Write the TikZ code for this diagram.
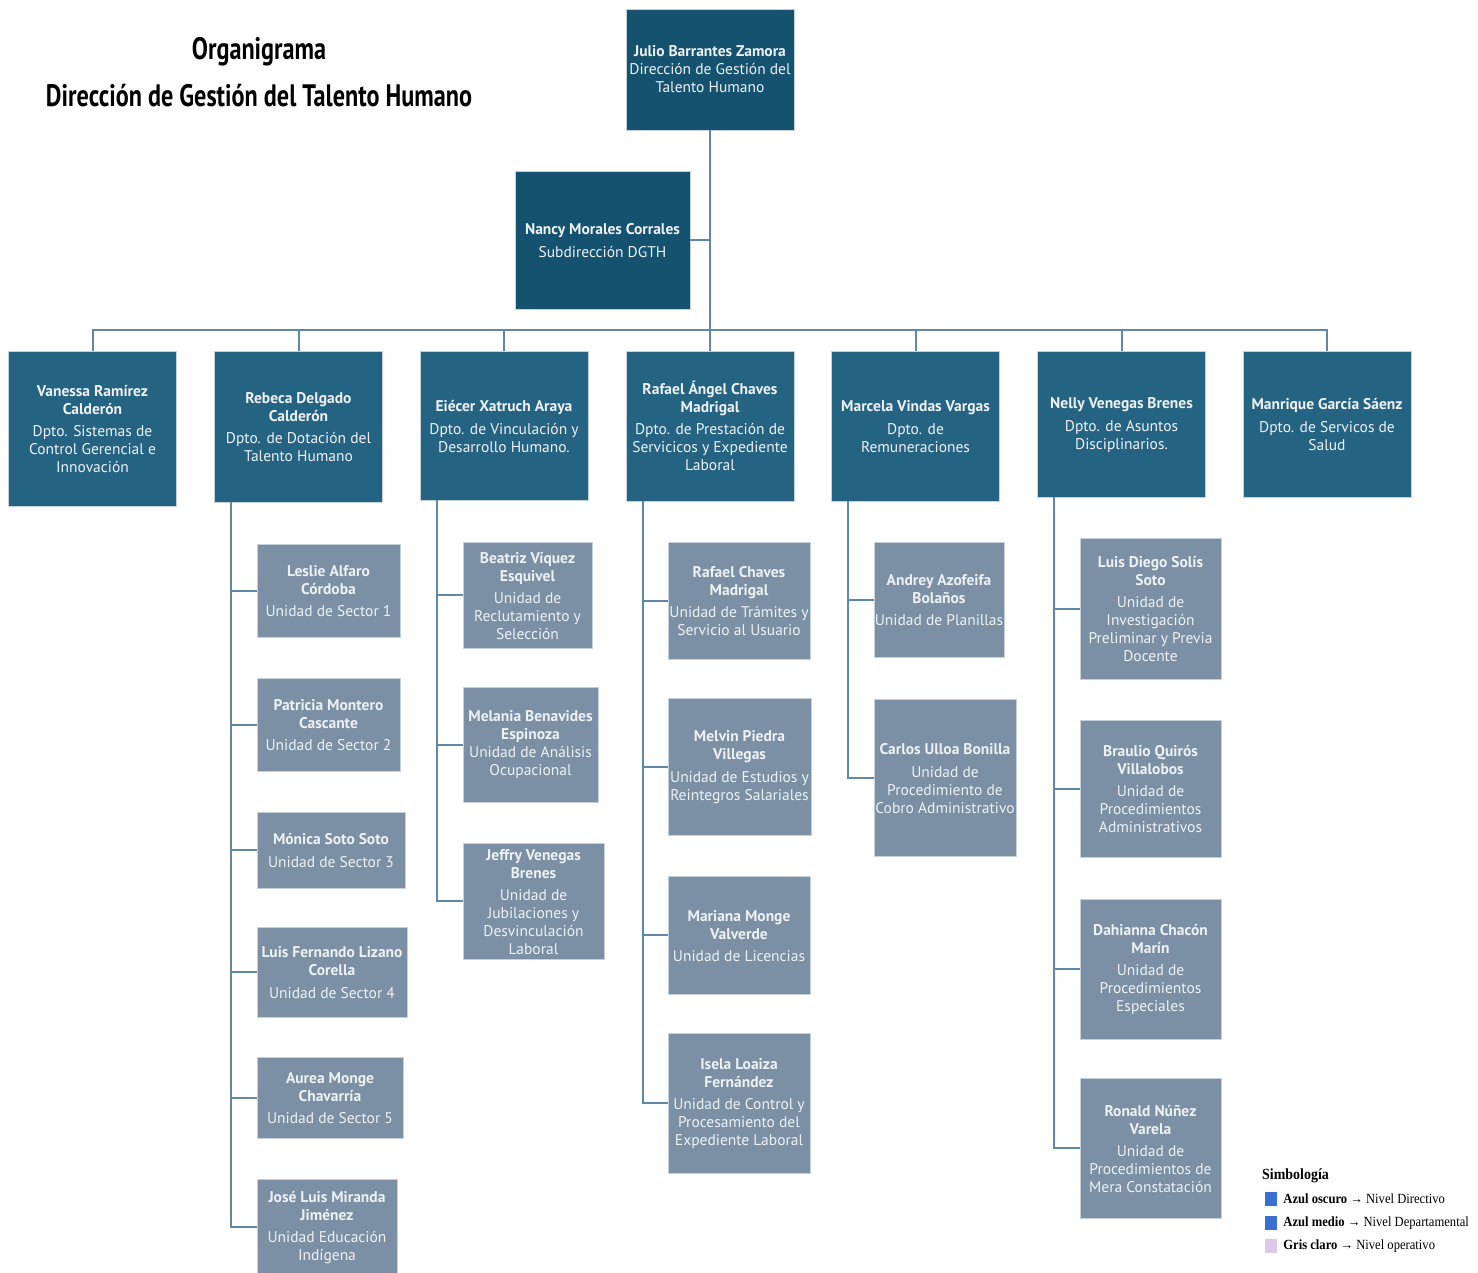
\documentclass[tikz,border=0pt]{standalone}
\usepackage{fontspec}
\setmainfont{PT Sans}
\newfontfamily\headfont{PT Sans}[FakeStretch=0.78]
\newfontfamily\legendfont{Liberation Serif}[FakeStretch=0.9]
\usetikzlibrary{positioning, calc}
\definecolor{orgdark}{HTML}{14526F}
\definecolor{orgmid}{HTML}{256383}
\definecolor{orggrey}{HTML}{7B90A4}
\definecolor{orglink}{HTML}{5F88A6}
\definecolor{orgedge}{HTML}{C5D1DB}
\definecolor{orgtext}{HTML}{EEF1F4}
\definecolor{legblue}{HTML}{3B70D3}
\definecolor{leglilac}{HTML}{D9CAEB}
% name in bold (may span lines), then the office
\newcommand{\who}[2]{{\bfseries\begin{tabular}{@{}c@{}}#1\end{tabular}}\\[5pt]#2}

\begin{document}
\begin{tikzpicture}[x=1pt, y=-1pt,
  orgbox/.style 2 args={draw=orgedge, line width=0.6pt, text=orgtext,
    align=center, inner sep=1pt, minimum width=#1, minimum height=#2,
    font=\fontsize{15.5}{18}\selectfont},
  topbox/.style 2 args={orgbox={#1}{#2}, fill=orgdark},
  deptbox/.style 2 args={orgbox={#1}{#2}, fill=orgmid},
  unitbox/.style 2 args={orgbox={#1}{#2}, fill=orggrey},
  link/.style={draw=orglink, line width=2pt},
  legsq/.style={minimum width=12, minimum height=14, inner sep=0pt},
  legtext/.style={font=\legendfont\fontsize{14}{16}\selectfont, inner sep=0pt}]
  \useasboundingbox (0,0) rectangle (1478,1273);

  % title
  \node[font=\headfont\bfseries\fontsize{31}{47}\selectfont, align=center]
    (title) at (259,72) {Organigrama\\Dirección de Gestión del Talento Humano};

  % direction
  \node[topbox={168}{121}] (julio) at (710,69.5)
    {\textbf{Julio Barrantes Zamora}\\Dirección de Gestión del\\Talento Humano};
  \node[topbox={175}{138}] (nancy) at (602.5,240)
    {\who{Nancy Morales Corrales}{Subdirección DGTH}};

  % departments
  \node[deptbox={168}{155}] (vanessa) at (92.5,428.5)
    {\who{Vanessa Ramírez\\Calderón}{Dpto. Sistemas de\\Control Gerencial e\\Innovación}};
  \node[deptbox={168}{151}] (rebeca) at (298.5,426.5)
    {\who{Rebeca Delgado\\Calderón}{Dpto. de Dotación del\\Talento Humano}};
  \node[deptbox={168}{149}] (eiecer) at (504,425.5)
    {\who{Eiécer Xatruch Araya}{Dpto. de Vinculación y\\Desarrollo Humano.}};
  \node[deptbox={168}{150}] (rafael) at (710,426)
    {\who{Rafael Ángel Chaves\\Madrigal}{Dpto. de Prestación de\\Servicicos y Expediente\\Laboral}};
  \node[deptbox={168}{150}] (marcela) at (915.5,426)
    {\who{Marcela Vindas Vargas}{Dpto. de\\Remuneraciones}};
  \node[deptbox={168}{146}] (nelly) at (1121.5,424)
    {\who{Nelly Venegas Brenes}{Dpto. de Asuntos\\Disciplinarios.}};
  \node[deptbox={168}{146}] (manrique) at (1327,424)
    {\who{Manrique García Sáenz}{Dpto. de Servicos de\\Salud}};

  % units under Rebeca
  \node[unitbox={143}{93}] (leslie) at (328.5,590.5)
    {\who{Leslie Alfaro\\Córdoba}{Unidad de Sector 1}};
  \node[unitbox={143}{93}] (patricia) at (328.5,724.5)
    {\who{Patricia Montero\\Cascante}{Unidad de Sector 2}};
  \node[unitbox={148}{76}] (monica) at (331,850)
    {\who{Mónica Soto Soto}{Unidad de Sector 3}};
  \node[unitbox={150}{90}] (luisf) at (332,972)
    {\who{Luis Fernando Lizano\\Corella}{Unidad de Sector 4}};
  \node[unitbox={146}{81}] (aurea) at (330,1097.5)
    {\who{Aurea Monge\\Chavarría}{Unidad de Sector 5}};
  \node[unitbox={140}{96}] (joseluis) at (327,1227)
    {\who{José Luis Miranda\\Jiménez}{Unidad Educación\\Indígena}};

  % units under Eiécer
  \node[unitbox={129}{106}] (beatriz) at (527.5,595)
    {\who{Beatriz Víquez\\Esquivel}{Unidad de\\Reclutamiento y\\Selección}};
  \node[unitbox={135}{115}] (melania) at (530.5,744.5)
    {\textbf{Melania Benavides}\\\textbf{Espinoza}\\Unidad de Análisis\\Ocupacional};
  \node[unitbox={141}{116}] (jeffry) at (533.5,901)
    {\who{Jeffry Venegas\\Brenes}{Unidad de\\Jubilaciones y\\Desvinculación\\Laboral}};

  % units under Rafael
  \node[unitbox={142}{117}] (rafaelc) at (739,600.5)
    {\who{Rafael Chaves\\Madrigal}{Unidad de Trámites y\\Servicio al Usuario}};
  \node[unitbox={143}{137}] (melvin) at (739.5,766.5)
    {\who{Melvin Piedra\\Villegas}{Unidad de Estudios y\\Reintegros Salariales}};
  \node[unitbox={142}{118}] (mariana) at (739,935)
    {\who{Mariana Monge\\Valverde}{Unidad de Licencias}};
  \node[unitbox={142}{140}] (isela) at (739,1103)
    {\who{Isela Loaiza\\Fernández}{Unidad de Control y\\Procesamiento del\\Expediente Laboral}};

  % units under Marcela
  \node[unitbox={130}{115}] (andrey) at (939,599.5)
    {\who{Andrey Azofeifa\\Bolaños}{Unidad de Planillas}};
  \node[unitbox={142}{157}] (carlos) at (945,777.5)
    {\who{Carlos Ulloa Bonilla}{Unidad de\\Procedimiento de\\Cobro Administrativo}};

  % units under Nelly
  \node[unitbox={141}{141}] (luisd) at (1150.5,608.5)
    {\who{Luis Diego Solís\\Soto}{Unidad de\\Investigación\\Preliminar y Previa\\Docente}};
  \node[unitbox={141}{137}] (braulio) at (1150.5,788.5)
    {\who{Braulio Quirós\\Villalobos}{Unidad de\\Procedimientos\\Administrativos}};
  \node[unitbox={141}{140}] (dahianna) at (1150.5,969)
    {\who{Dahianna Chacón\\Marín}{Unidad de\\Procedimientos\\Especiales}};
  \node[unitbox={141}{140}] (ronald) at (1150.5,1148)
    {\who{Ronald Núñez\\Varela}{Unidad de\\Procedimientos de\\Mera Constatación}};

  % connectors
  \coordinate (bus) at (710,330);
  \draw[link] (julio) -- (bus);
  \draw[link] (nancy) -- (nancy -| julio);
  \draw[link] (vanessa.north) |- (bus) -| (manrique.north);
  \foreach \d in {rebeca, eiecer, rafael, marcela, nelly}
    \draw[link] (\d.north |- bus) -- (\d.north);
  \foreach \d/\u in {rebeca/leslie, rebeca/patricia, rebeca/monica,
      rebeca/luisf, rebeca/aurea, rebeca/joseluis,
      eiecer/beatriz, eiecer/melania, eiecer/jeffry,
      rafael/rafaelc, rafael/melvin, rafael/mariana, rafael/isela,
      marcela/andrey, marcela/carlos,
      nelly/luisd, nelly/braulio, nelly/dahianna, nelly/ronald}
    \draw[link] ($(\d.south west)+(17,0)$) |- (\u.west);

  % legend
  \node[font=\legendfont\bfseries\fontsize{15.5}{17}\selectfont, anchor=west,
        inner sep=0pt] (simb) at (1262,1176) {Simbología};
  \node[legsq, fill=legblue] (sqdir) at (1271,1199) {};
  \node[legsq, fill=legblue] (sqdep) at (1271,1223) {};
  \node[legsq, fill=leglilac] (sqope) at (1271,1246) {};
  \node[legtext, right=6pt of sqdir] (legdir) {\textbf{Azul oscuro} → Nivel Directivo};
  \node[legtext, right=6pt of sqdep] (legdep) {\textbf{Azul medio} → Nivel Departamental};
  \node[legtext, right=6pt of sqope] (legope) {\textbf{Gris claro} → Nivel operativo};
\end{tikzpicture}
\end{document}
